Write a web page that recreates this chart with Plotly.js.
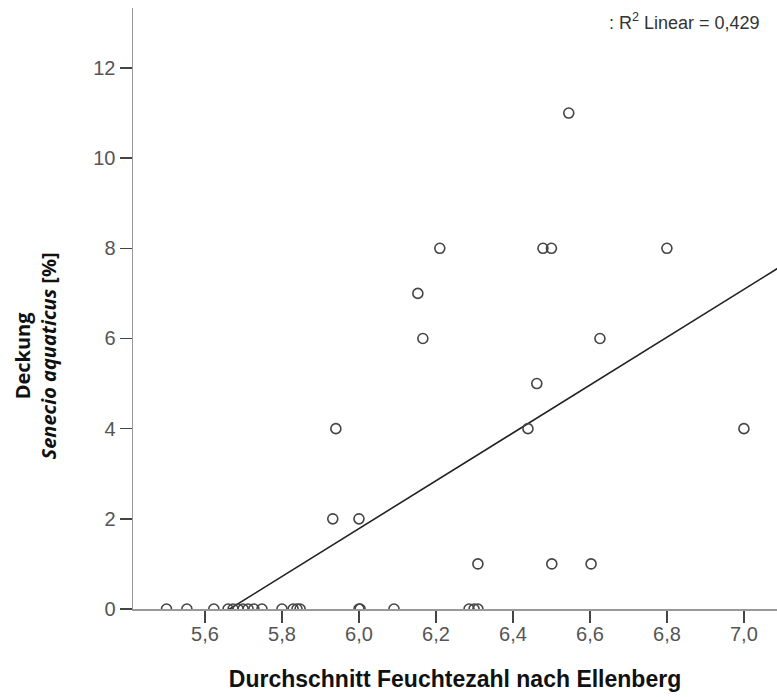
<!DOCTYPE html>
<html>
<head>
<meta charset="utf-8">
<script src="https://cdn.plot.ly/plotly-3.0.1.min.js"></script>
<style>html,body{margin:0;padding:0;background:#fff;}#chart{width:777px;height:697px;}</style>
</head>
<body>
<div id="chart"></div>
<script>
// Scatter points: mean Ellenberg moisture value vs. cover of Senecio aquaticus [%]
const feuchtezahl = [
  5.500, 5.553, 5.623, 5.660, 5.673, 5.686, 5.699, 5.712, 5.727, 5.748,
  5.800, 5.829, 5.839, 5.847, 6.000, 6.003, 6.091, 6.286, 6.299, 6.309,
  6.545, 6.210, 6.478, 6.500, 6.800, 6.153, 6.166, 6.626, 6.462, 6.439,
  5.940, 7.000, 5.932, 6.000, 6.309, 6.501, 6.603
];
const deckung = [
  0, 0, 0, 0, 0, 0, 0, 0, 0, 0,
  0, 0, 0, 0, 0, 0, 0, 0, 0, 0,
  11, 8, 8, 8, 8, 7, 6, 6, 5, 4,
  4, 4, 2, 2, 1, 1, 1
];
// Fit line (linear)
const fitX = [5.50, 7.10];
const fitY = [-0.87, 7.62];
const r2Label = ': R<sup>2</sup> Linear = 0,429';
const xTicks = [5.6, 5.8, 6.0, 6.2, 6.4, 6.6, 6.8, 7.0];
const yTicks = [0, 2, 4, 6, 8, 10, 12];

const traces = [
  {
    x: fitX, y: fitY, type: 'scatter', mode: 'lines',
    line: {color: '#222', width: 1.6}, hoverinfo: 'skip', showlegend: false
  },
  {
    x: feuchtezahl, y: deckung, type: 'scatter', mode: 'markers',
    marker: {symbol: 'circle-open', size: 10, color: '#444', line: {width: 1.6, color: '#444'}},
    showlegend: false, cliponaxis: true
  }
];

const tickFont = {family: 'Liberation Sans, Arial, sans-serif', size: 20, color: '#555'};

const layout = {
  width: 777, height: 697,
  margin: {l: 133, r: 0, t: 8, b: 88},
  paper_bgcolor: '#fff', plot_bgcolor: '#fff',
  separators: ',.',
  showlegend: false,
  xaxis: {
    range: [5.413, 7.086], tickvals: xTicks, tickformat: '.1f',
    showgrid: false, zeroline: false,
    showline: true, linecolor: '#999', linewidth: 1.5,
    ticks: 'outside', ticklen: 12, tickwidth: 1.5, tickcolor: '#444',
    tickfont: tickFont, ticklabelstandoff: -6,
    title: {
      text: '<b>Durchschnitt Feuchtezahl nach Ellenberg</b>',
      font: {family: 'Liberation Sans, Arial, sans-serif', size: 23, color: '#111'},
      standoff: 27
    }
  },
  yaxis: {
    range: [0, 13.33], tickvals: yTicks,
    showgrid: false, zeroline: false,
    showline: true, linecolor: '#999', linewidth: 1.5,
    ticks: 'outside', ticklen: 12, tickwidth: 1.5, tickcolor: '#444',
    tickfont: tickFont, ticklabelstandoff: 0
  },
  annotations: [
    {
      text: '<b>Deckung</b><br><b><i>Senecio aquaticus</i> [%]</b>',
      xref: 'paper', yref: 'paper', x: -0.150, y: 0.421,
      xanchor: 'center', yanchor: 'middle', textangle: -90, showarrow: false,
      font: {family: 'Open Sans, Noto Sans, sans-serif', size: 20, color: '#111'}
    },
    {
      text: r2Label,
      xref: 'paper', yref: 'paper', x: 0.977, y: 0.977,
      xanchor: 'right', yanchor: 'middle', showarrow: false,
      font: {family: 'Liberation Sans, Arial, sans-serif', size: 18, color: '#333'}
    }
  ]
};

Plotly.newPlot('chart', traces, layout, {displayModeBar: false, staticPlot: true});
</script>
</body>
</html>
